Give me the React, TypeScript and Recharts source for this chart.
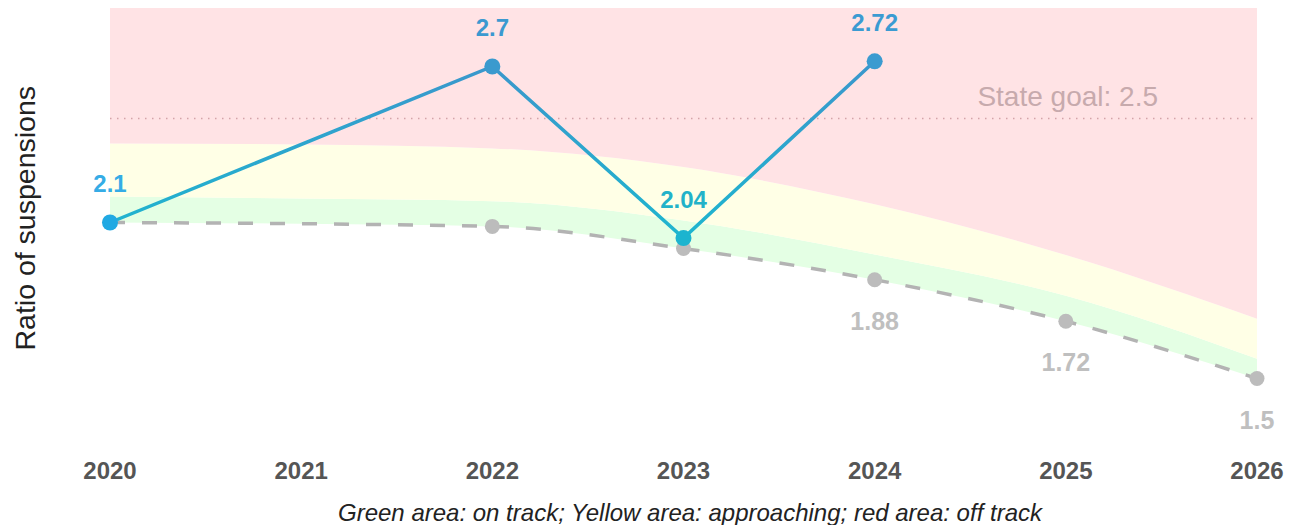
import React from 'react'
import {
  ComposedChart,
  Area,
  Line,
  XAxis,
  YAxis,
  ReferenceLine,
  LabelList,
} from 'recharts'

// values
const years = ['2020', '2021', '2022', '2023', '2024', '2025', '2026']
const actual = [2.1, null, 2.7, 2.04, 2.72, null, null]
const target = [2.1, null, 2.085, 2.0, 1.88, 1.72, 1.5]
// band edges (green = on track, yellow = approaching, red = off track)
const bandFloor = [2.1, 2.095, 2.085, 2.0, 1.88, 1.72, 1.5]
const onTrackTop = [2.2, 2.192, 2.182, 2.108, 1.977, 1.818, 1.576]
const approachingTop = [2.404, 2.4, 2.385, 2.313, 2.17, 1.975, 1.73]
const stateGoal = 2.5

const Y_MIN = 1.2
const Y_MAX = 2.925
const FONT = '"Liberation Sans", Arial, sans-serif'

const data = years.map((year, i) => ({
  year,
  actual: actual[i],
  target: target[i],
  floor: bandFloor[i],
  green: onTrackTop[i] - bandFloor[i],
  yellow: approachingTop[i] - onTrackTop[i],
  red: Y_MAX - approachingTop[i],
}))

const BLUE_DOTS = ['#20a9e3', '', '#3a9ace', '#1cb4cf', '#3b9bd0', '', '']
const BLUE_LABELS = ['#35ace6', '', '#3b99d0', '#22b2c9', '#3b9bd2', '', '']

const BlueDot = ({ cx, cy, index, value }: any) => {
  if (value == null || cx == null) return null
  return <circle key={`bd-${index}`} cx={cx} cy={cy} r={8} fill={BLUE_DOTS[index]} />
}

const GrayDot = ({ cx, cy, index, value }: any) => {
  if (value == null || cx == null) return null
  return <circle key={`gd-${index}`} cx={cx} cy={cy} r={7.5} fill="#bcbcbc" />
}

const blueLabel = ({ x, y, value, index }: any) => {
  if (value == null) return null
  return (
    <text
      x={x}
      y={y - 39}
      textAnchor="middle"
      dominantBaseline="central"
      fill={BLUE_LABELS[index]}
      fontSize={24}
      fontWeight="bold"
      fontFamily={FONT}
    >
      {value}
    </text>
  )
}

const grayLabel = ({ x, y, value, index }: any) => {
  if (value == null || index < 4) return null
  return (
    <text
      x={x}
      y={y + 41}
      textAnchor="middle"
      dominantBaseline="central"
      fill="#bfbfbf"
      fontSize={25}
      fontWeight="bold"
      fontFamily={FONT}
    >
      {value}
    </text>
  )
}

const goalLabel = ({ viewBox }: any) => {
  const { x, y, width } = viewBox
  return (
    <text
      x={x + width - 99}
      y={y - 22}
      textAnchor="end"
      dominantBaseline="central"
      fill="#c7aaad"
      fontSize={28}
      fontFamily={FONT}
    >
      State goal: {stateGoal}
    </text>
  )
}

const yLabel = ({ viewBox }: any) => {
  const { x, y, height } = viewBox
  const lx = x + 17
  const ly = y + height / 2 - 14
  return (
    <text
      x={lx}
      y={ly}
      transform={`rotate(-90, ${lx}, ${ly})`}
      textAnchor="middle"
      dominantBaseline="central"
      fill="#222"
      fontSize={28.5}
      fontFamily={FONT}
    >
      Ratio of suspensions
    </text>
  )
}

export default function App() {
  return (
    <div style={{ width: 1280, fontFamily: FONT }}>
      <ComposedChart
        width={1280}
        height={480}
        data={data}
        margin={{ top: 0, right: 31, bottom: 0, left: 0 }}
      >
        <defs>
          <linearGradient id="blueLine" gradientUnits="userSpaceOnUse" x1="0" y1="55" x2="0" y2="232">
            <stop offset="0" stopColor="#3b97cc" />
            <stop offset="1" stopColor="#1db6cf" />
          </linearGradient>
        </defs>
        <XAxis
          dataKey="year"
          scale="point"
          padding={{ left: 0, right: 0 }}
          axisLine={false}
          tickLine={false}
          tickSize={0}
          tickMargin={5}
          height={31.5}
          tick={{ fill: '#555', fontSize: 24, fontWeight: 'bold', fontFamily: FONT }}
        />
        <YAxis
          type="number"
          domain={[Y_MIN, Y_MAX]}
          allowDataOverflow
          width={102}
          tick={false}
          axisLine={false}
          tickLine={false}
          label={yLabel}
        />
        <Area
          type="monotone"
          dataKey="floor"
          stackId="band"
          stroke="none"
          fill="none"
          isAnimationActive={false}
        />
        <Area
          type="monotone"
          dataKey="green"
          stackId="band"
          stroke="none"
          fill="#e4ffe4"
          fillOpacity={1}
          isAnimationActive={false}
        />
        <Area
          type="monotone"
          dataKey="yellow"
          stackId="band"
          stroke="none"
          fill="#ffffe6"
          fillOpacity={1}
          isAnimationActive={false}
        />
        <Area
          type="monotone"
          dataKey="red"
          stackId="band"
          stroke="none"
          fill="#ffe3e5"
          fillOpacity={1}
          isAnimationActive={false}
        />
        <ReferenceLine
          y={stateGoal}
          stroke="#d4a3a9"
          strokeWidth={1.5}
          strokeDasharray="1.5 5.5"
          label={goalLabel}
        />
        <Line
          type="monotone"
          dataKey="target"
          stroke="#b3b3b3"
          strokeWidth={3.5}
          strokeDasharray="15 17"
          connectNulls
          dot={<GrayDot />}
          activeDot={false}
          isAnimationActive={false}
        >
          <LabelList dataKey="target" content={grayLabel} />
        </Line>
        <Line
          type="linear"
          dataKey="actual"
          stroke="url(#blueLine)"
          strokeWidth={3.5}
          connectNulls
          dot={<BlueDot />}
          activeDot={false}
          isAnimationActive={false}
        >
          <LabelList dataKey="actual" content={blueLabel} />
        </Line>
      </ComposedChart>
      <div
        style={{
          marginTop: 13,
          paddingLeft: 84,
          textAlign: 'center',
          fontStyle: 'italic',
          fontSize: 24,
          lineHeight: '24px',
          color: '#222',
        }}
      >
        Green area: on track; Yellow area: approaching; red area: off track
      </div>
    </div>
  )
}
